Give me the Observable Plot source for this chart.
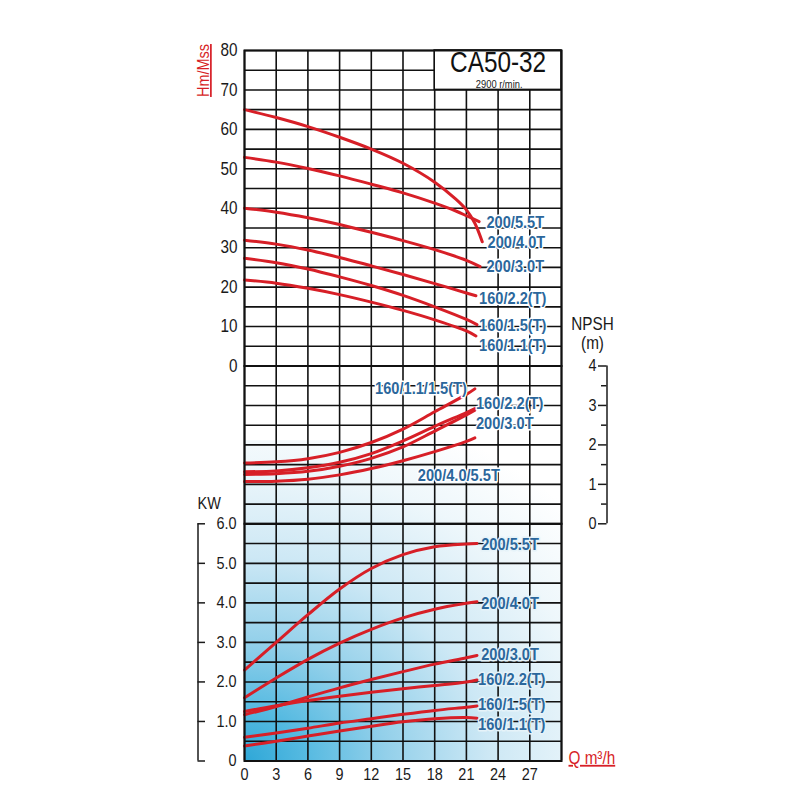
<!DOCTYPE html>
<html>
<head>
<meta charset="utf-8">
<script src="https://cdn.jsdelivr.net/npm/d3@7"></script>
<script src="https://cdn.jsdelivr.net/npm/@observablehq/plot@0.6"></script>
<style>
  html, body { margin: 0; padding: 0; background: #fff; }
  #chart { position: relative; width: 800px; height: 800px; overflow: hidden; }
  #chart svg { position: absolute; left: 0; top: 0; }
</style>
</head>
<body>
<div id="chart"></div>
<script>
// ---------------- DATA ----------------
const xTicks = [0, 3, 6, 9, 12, 15, 18, 21, 24, 27];
const headTicks = [0, 10, 20, 30, 40, 50, 60, 70, 80];
const npshTicks = [0, 1, 2, 3, 4];
const kwTicks = [0, 1, 2, 3, 4, 5, 6];
const kwTickLabels = ["0", "1.0", "2.0", "3.0", "4.0", "5.0", "6.0"];

// Head curves H (m) vs Q (m³/h)
const head_200_55 = [[0,65],[3,63.0],[6,60.7],[9,58.0],[12,55.0],[15,51.4],[18,46.6],[20,42.3],[21,39.6],[21.8,36.2],[22.5,31.5]];
const head_200_40 = [[0,52.9],[3,51.7],[6,50.1],[9,48.2],[12,46.1],[15,43.9],[18,41.3],[20,39.3],[21,38.1],[22.2,36.6]];
const head_200_30 = [[0,40],[3,39.0],[6,37.6],[9,35.9],[12,33.9],[15,31.8],[18,29.5],[21,26.8],[22.3,25.2]];
const head_160_22 = [[0,31.9],[3,30.9],[6,29.4],[9,27.5],[12,25.4],[15,23.2],[18,20.9],[21,18.5],[21.9,17.8]];
const head_160_15 = [[0,27.3],[3,26.2],[6,24.6],[9,22.6],[12,20.4],[15,17.9],[18,15.0],[21,11.8],[22,10.5]];
const head_160_11 = [[0,21.8],[3,21.0],[6,19.7],[9,18.1],[12,16.2],[15,14.1],[18,11.7],[21,8.9],[21.9,7.6]];

// NPSH curves (m)
const npsh_160_11_15 = [[0,1.54],[3,1.57],[6,1.65],[9,1.81],[12,2.06],[15,2.4],[18,2.84],[21,3.28],[21.8,3.42]];
const npsh_160_22 = [[0,1.32],[3,1.34],[6,1.42],[9,1.56],[12,1.78],[15,2.1],[18,2.47],[21,2.82],[21.8,2.92]];
const npsh_200_30 = [[0,1.25],[3,1.27],[6,1.33],[9,1.46],[12,1.66],[15,1.95],[18,2.35],[21,2.76],[21.8,2.88]];
const npsh_200_40_55 = [[0,1.07],[3,1.08],[6,1.13],[9,1.24],[12,1.4],[15,1.6],[18,1.83],[21,2.09],[21.8,2.18]];

// Power curves (kW)
const kw_200_55 = [[0,2.3],[3,3.0],[6,3.7],[9,4.35],[12,4.87],[15,5.22],[18,5.42],[21,5.49],[22,5.5]];
const kw_200_40 = [[0,1.6],[3,2.1],[6,2.57],[9,2.98],[12,3.33],[15,3.62],[18,3.84],[21,3.99],[22,4.03]];
const kw_200_30 = [[0,1.17],[3,1.38],[6,1.62],[9,1.85],[12,2.06],[15,2.26],[18,2.45],[21,2.61],[22,2.67]];
const kw_160_22 = [[0,1.25],[3,1.4],[6,1.53],[9,1.64],[12,1.74],[15,1.83],[18,1.91],[21,2],[22,2.05]];
const kw_160_15 = [[0,0.6],[3,0.71],[6,0.83],[9,0.96],[12,1.07],[15,1.18],[18,1.28],[21,1.36],[22,1.39]];
const kw_160_11 = [[0,0.38],[3,0.5],[6,0.63],[9,0.76],[12,0.88],[15,0.99],[18,1.07],[21,1.1],[22,1.08]];

// Curve label names and anchor points (data units)
const headLabelNames = ["200/5.5T", "200/4.0T", "200/3.0T", "160/2.2(T)", "160/1.5(T)", "160/1.1(T)"];
const headLabelQ = [22.9, 23.0, 22.9, 22.2, 22.2, 22.2];
const headLabelH = [36.4, 31.3, 25.1, 17.2, 10.2, 5.3];

const npshLabelNames = ["160/1.1/1.5(T)", "160/2.2(T)", "200/3.0T", "200/4.0/5.5T"];
const npshLabelQ = [16.7, 21.9, 21.9, 16.4];
const npshLabelN = [3.44, 3.04, 2.54, 1.22];
const npshLabelAnchor = ["middle", "start", "start", "start"];

const kwLabelNames = ["200/5.5T", "200/4.0T", "200/3.0T", "160/2.2(T)", "160/1.5(T)", "160/1.1(T)"];
const kwLabelQ = [22.4, 22.4, 22.4, 22.1, 22.1, 22.1];
const kwLabelK = [5.47, 3.99, 2.68, 2.07, 1.44, 0.93];

// ---------------- TABLES ----------------
const rows = (series) => series.flatMap(([name, pts]) => pts.map(([q, v]) => ({name, q, v})));
const headRows = rows([["200/5.5T", head_200_55], ["200/4.0T", head_200_40], ["200/3.0T", head_200_30],
                       ["160/2.2(T)", head_160_22], ["160/1.5(T)", head_160_15], ["160/1.1(T)", head_160_11]]);
const npshRows = rows([["160/1.1/1.5(T)", npsh_160_11_15], ["160/2.2(T)", npsh_160_22],
                       ["200/3.0T", npsh_200_30], ["200/4.0/5.5T", npsh_200_40_55]]);
const kwRows = rows([["200/5.5T", kw_200_55], ["200/4.0T", kw_200_40], ["200/3.0T", kw_200_30],
                     ["160/2.2(T)", kw_160_22], ["160/1.5(T)", kw_160_15], ["160/1.1(T)", kw_160_11]]);
const headLabels = headLabelNames.map((name, i) => ({name, q: headLabelQ[i], v: headLabelH[i]}));
const npshLabels = npshLabelNames.map((name, i) => ({name, q: npshLabelQ[i], v: npshLabelN[i], a: npshLabelAnchor[i]}));
const kwLabels = kwLabelNames.map((name, i) => ({name, q: kwLabelQ[i], v: kwLabelK[i]}));

// ---------------- LAYOUT / STYLE ----------------
const FONT = '"Liberation Sans", Arial, sans-serif';
const RED = "#d71f27", BLUE = "#2b679c", INK = "#1a1a1a", GRID = "#111";
const L = 244, R = 561, T0 = 50, T1 = 365.5, T2 = 523.3, T3 = 760.5;
const CONDENSE = 0.85, CONDENSE_LABEL = 0.86, CONDENSE_TITLE = 0.84; // imitate a condensed typeface
const qAt = (px) => (px - L) / (R - L) * 30; // x position outside the frame, in Q units

const common = {
  width: 800, height: 800, marginLeft: L, marginRight: 800 - R,
  x: {domain: [0, 30], axis: null},
  style: {background: "transparent", fontFamily: FONT, color: INK, overflow: "visible"}
};
const gridX = Plot.ruleX(d3.range(0, 31, 3), {stroke: GRID, strokeWidth: 1.6});
const curve = (data) => Plot.line(data, {x: "q", y: "v", z: "name", stroke: RED, strokeWidth: 3, curve: "catmull-rom"});
const note = (t, o) => Plot.text([t], {text: (d) => d, lineAnchor: "middle", ...o});
const labelStyle = {text: "name", fill: BLUE, fontSize: 17, fontWeight: "bold", stroke: "white", strokeWidth: 3};

// ---------- Power (kW) panel (bottom layer, carries the background gradient) ----------
const kwPlot = Plot.plot({
  ...common,
  marginTop: T2, marginBottom: 800 - T3,
  y: {domain: [0, 6], axis: null},
  marks: [
    Plot.rect([{a: 0, b: 30, c: 0, d: 8.1}], {x1: "a", x2: "b", y1: "c", y2: "d", fill: "url(#kwbg)"}),
    Plot.ruleY(d3.range(0, 6.01, 0.5), {stroke: GRID, strokeWidth: 1.6}),
    gridX,
    curve(kwRows),
    Plot.text(kwLabels, {x: "q", y: "v", textAnchor: "start", ...labelStyle, stroke: "#e6f3f9"}),
    Plot.axisY({ticks: kwTicks, tickFormat: (d) => kwTickLabels[kwTicks.indexOf(d)], tickSize: 0, tickPadding: 8, fontSize: 17, label: null}),
    Plot.ruleX([qAt(197.5)], {y1: 0, y2: 6, stroke: INK, strokeWidth: 1.5}),
    Plot.ruleY(kwTicks, {x1: qAt(197.5), x2: qAt(205), stroke: INK, strokeWidth: 1.5}),
    note("KW", {frameAnchor: "top-left", dx: -47, dy: -20, textAnchor: "start", fontSize: 17, fill: INK}),
    Plot.axisX({ticks: xTicks, tickSize: 0, tickPadding: 7, fontSize: 17, label: null}),
    note("Q m³/h", {frameAnchor: "bottom-right", dx: 7, dy: -3, textAnchor: "start", fontSize: 18, fill: RED}),
    Plot.frame({stroke: GRID, strokeWidth: 2})
  ]
});

// ---------- NPSH panel ----------
const npshPlot = Plot.plot({
  ...common,
  marginTop: T1, marginBottom: 800 - T2,
  y: {domain: [0, 4], axis: null},
  marks: [
    Plot.ruleY(d3.range(0, 4.01, 0.5), {stroke: GRID, strokeWidth: 1.6}),
    gridX,
    curve(npshRows),
    Plot.text(npshLabels.filter((d) => d.a === "start"), {x: "q", y: "v", textAnchor: "start", ...labelStyle}),
    Plot.text(npshLabels.filter((d) => d.a === "middle"), {x: "q", y: "v", textAnchor: "middle", ...labelStyle}),
    Plot.axisY({anchor: "right", ticks: npshTicks, tickFormat: (d) => String(d), tickSize: 0, tickPadding: 27, fontSize: 17, label: null}),
    Plot.ruleX([qAt(606.5)], {y1: 0, y2: 4, stroke: INK, strokeWidth: 1.5}),
    Plot.ruleY(npshTicks, {x1: qAt(598), x2: qAt(606.5), stroke: INK, strokeWidth: 1.5}),
    Plot.ruleY([0.5, 1.5, 2.5, 3.5], {x1: qAt(601), x2: qAt(606.5), stroke: INK, strokeWidth: 1.5}),
    note("NPSH", {frameAnchor: "top-right", dx: 31, dy: -42, textAnchor: "middle", fontSize: 18, fill: INK}),
    note("(m)", {frameAnchor: "top-right", dx: 31, dy: -23, textAnchor: "middle", fontSize: 18, fill: INK}),
    Plot.frame({stroke: GRID, strokeWidth: 2})
  ]
});

// ---------- Head panel ----------
const headPlot = Plot.plot({
  ...common,
  marginTop: T0, marginBottom: 800 - T1,
  y: {domain: [0, 80], axis: null},
  marks: [
    Plot.ruleY(d3.range(0, 80.1, 5), {stroke: GRID, strokeWidth: 1.6}),
    gridX,
    Plot.rect([{a: 18, b: 30, c: 70, d: 80}], {x1: "a", x2: "b", y1: "c", y2: "d", fill: "white", stroke: GRID, strokeWidth: 1.6}),
    Plot.text(["CA50-32"], {text: (d) => d, x: () => 24, y: () => 76.9, fontSize: 29, fill: "#111"}),
    Plot.text(["2900 r/min."], {text: (d) => d, x: () => 24.1, y: () => 71.5, fontSize: 11, fill: "#222"}),
    curve(headRows),
    Plot.text(headLabels, {x: "q", y: "v", textAnchor: "start", ...labelStyle}),
    Plot.axisY({ticks: headTicks, tickSize: 0, tickPadding: 7, fontSize: 18, label: null}),
    note("Hm/Mss", {frameAnchor: "top-left", dx: -41, dy: 20, rotate: -90, textAnchor: "middle", fontSize: 17, fill: RED}),
    Plot.frame({stroke: GRID, strokeWidth: 2})
  ]
});

// gradient definition for the lower background
{
  const defs = d3.select(kwPlot).insert("defs", ":first-child");
  const g = defs.append("radialGradient").attr("id", "kwbg").attr("gradientUnits", "userSpaceOnUse")
    .attr("cx", L).attr("cy", T3).attr("r", 370)
    .attr("gradientTransform", `translate(${L},${T3}) scale(1.2,1) translate(${-L},${-T3})`);
  [[0, "#2ea7d7"], [0.14, "#56bae1"], [0.32, "#93d0ea"], [0.55, "#cde8f5"], [0.8, "#eef7fb"], [1, "#ffffff"]]
    .forEach(([o, c]) => g.append("stop").attr("offset", o).attr("stop-color", c));
}

// condensed look + underlines
const chart = document.getElementById("chart");
[kwPlot, npshPlot, headPlot].forEach((svg) => {
  svg.querySelectorAll("text").forEach((t) => {
    const txt = t.textContent;
    if (txt === "Hm/Mss" || txt === "Q m³/h") t.style.textDecoration = "underline";
    const isLabel = t.parentNode && t.parentNode.getAttribute("fill") === BLUE;
    const s = txt === "CA50-32" ? CONDENSE_TITLE : isLabel ? CONDENSE_LABEL : CONDENSE;
    const ax = +(t.getAttribute("x") || 0);
    const tr = t.getAttribute("transform") || "";
    t.setAttribute("transform", `${tr} translate(${ax},0) scale(${s},1) translate(${-ax},0)`);
  });
  chart.appendChild(svg);
});
</script>
</body>
</html>
